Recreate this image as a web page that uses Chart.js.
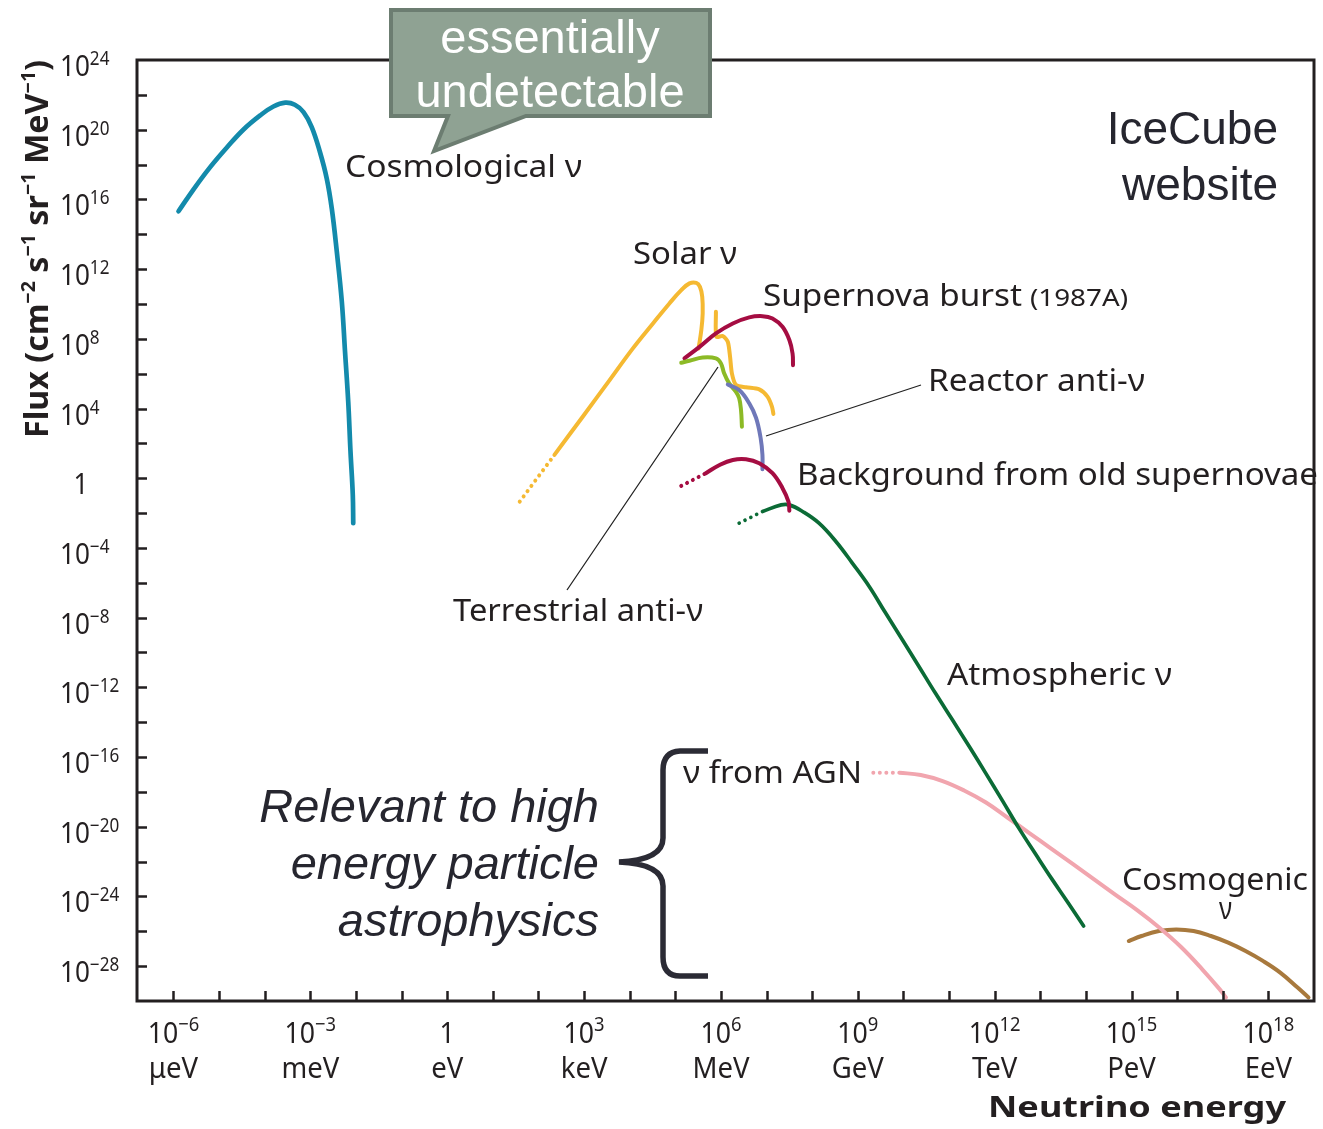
<!DOCTYPE html>
<html>
<head>
<meta charset="utf-8">
<title>Neutrino flux vs energy</title>
<script src="https://cdn.jsdelivr.net/npm/chart.js@4.4.1/dist/chart.umd.min.js"></script>
<style>
  html, body { margin: 0; padding: 0; background: #ffffff; }
  canvas { display: block; }
</style>
</head>
<body>
<canvas id="flux" width="1323" height="1129"></canvas>
<script>
// Axis tick labels (decade exponents of energy in eV, and of flux)
const xTickExp = [-6, -3, 0, 3, 6, 9, 12, 15, 18];
const xTickUnits = ['μeV', 'meV', 'eV', 'keV', 'MeV', 'GeV', 'TeV', 'PeV', 'EeV'];
const yTickExp = [24, 20, 16, 12, 8, 4, 0, -4, -8, -12, -16, -20, -24, -28];

// Each source: log10(E / eV) and log10(flux / cm^-2 s^-1 sr^-1 MeV^-1)
const cosmologicalE = [-5.89, -5.56, -5.20, -4.83, -4.47, -4.10, -3.81, -3.55, -3.34, -3.15, -2.97, -2.79, -2.64, -2.53, -2.42, -2.31, -2.24, -2.17, -2.12, -2.07, -2.06];
const cosmologicalF = [15.32, 16.58, 17.84, 18.98, 20.00, 20.82, 21.33, 21.55, 21.43, 21.01, 20.15, 18.72, 17.19, 15.47, 12.99, 10.12, 7.26, 4.39, 1.52, -0.96, -2.58];

const solarLowE = [1.59, 2.35];
const solarLowF = [-1.34, 1.34];
const solarE = [2.35, 2.97, 3.56, 4.07, 4.51, 4.87, 5.13, 5.31, 5.46, 5.54, 5.59, 5.60, 5.57, 5.51];
const solarF = [1.34, 3.53, 5.63, 7.45, 8.88, 10.03, 10.79, 11.18, 11.21, 10.98, 10.41, 9.46, 8.50, 7.45];
const solarLineE = [5.89, 5.90, 6.04, 6.15, 6.20, 6.24, 6.33, 6.55, 6.84, 7.02, 7.12, 7.15];
const solarLineF = [9.55, 8.12, 8.16, 7.83, 6.97, 6.02, 5.35, 5.22, 5.10, 4.68, 4.10, 3.69];

const supernovaE = [5.20, 5.53, 5.89, 6.26, 6.62, 6.91, 7.13, 7.35, 7.50, 7.57, 7.58];
const supernovaF = [6.88, 7.54, 8.31, 8.88, 9.23, 9.30, 9.17, 8.69, 7.93, 7.16, 6.49];

const terrestrialE = [5.13, 5.31, 5.60, 5.89, 6.00, 6.07, 6.18, 6.33, 6.40, 6.44, 6.46];
const terrestrialF = [6.63, 6.74, 6.93, 6.88, 6.59, 6.02, 5.44, 4.96, 4.59, 3.91, 2.96];

const reactorE = [6.15, 6.40, 6.62, 6.77, 6.87, 6.91, 6.91];
const reactorF = [5.38, 5.06, 4.30, 3.46, 2.31, 1.34, 0.52];

const relicSnLowE = [5.13, 5.67];
const relicSnLowF = [-0.44, 0.29];
const relicSnE = [5.67, 5.97, 6.26, 6.55, 6.84, 7.13, 7.35, 7.48, 7.50];
const relicSnF = [0.29, 0.76, 1.05, 1.09, 0.86, 0.29, -0.57, -1.34, -1.87];

const atmosphericLowE = [6.40, 6.91];
const atmosphericLowF = [-2.58, -1.91];
const atmosphericE = [6.91, 7.32, 7.50, 7.79, 8.15, 8.52, 8.88, 9.25, 9.61, 9.98, 10.34, 10.70, 11.07, 11.44, 11.80, 12.17, 12.53, 12.90, 13.26, 13.62, 13.95];
const atmosphericF = [-1.91, -1.53, -1.53, -1.91, -2.58, -3.63, -4.87, -6.21, -7.74, -9.28, -10.80, -12.33, -13.85, -15.38, -16.91, -18.50, -20.08, -21.58, -23.02, -24.40, -25.70];

const agnLowE = [9.34, 9.91];
const agnLowF = [-16.90, -16.90];
const agnE = [9.91, 10.38, 10.86, 11.33, 11.81, 12.28, 12.76, 13.23, 13.71, 14.18, 14.65, 15.13, 15.60, 16.08, 16.55, 16.93, 17.07];
const agnF = [-16.90, -17.03, -17.38, -17.92, -18.61, -19.47, -20.36, -21.24, -22.13, -23.02, -23.91, -24.80, -25.77, -26.89, -28.18, -29.32, -29.80];

const cosmogenicE = [14.94, 15.22, 15.60, 15.98, 16.36, 16.74, 17.12, 17.50, 17.88, 18.26, 18.64, 18.88];
const cosmogenicF = [-26.56, -26.27, -25.98, -25.89, -25.98, -26.27, -26.65, -27.13, -27.70, -28.37, -29.23, -29.80];

// ---------------------------------------------------------------
const INK = '#231f20';
const SANS = "'Noto Sans', 'Open Sans', 'DejaVu Sans', sans-serif";
const ARIAL = "'Liberation Sans', Arial, sans-serif";

const toPts = (E, F) => E.map((e, i) => ({ x: Math.pow(10, e), y: Math.pow(10, F[i]) }));

function curve(label, E, F, color, width, order, extra) {
  return Object.assign({
    label, data: toPts(E, F), borderColor: color, backgroundColor: color,
    borderWidth: width, pointRadius: 0, pointHoverRadius: 0, fill: false,
    tension: 0.4, borderCapStyle: 'round', borderJoinStyle: 'round', order
  }, extra || {});
}
function dotted(label, E, F, color, width, order) {
  return curve(label, E, F, color, width, order, { tension: 0, borderDash: [0.01, 6.5] });
}

const datasets = [
  curve('Cosmological ν', cosmologicalE, cosmologicalF, '#138aab', 4.7, 1),
  dotted('Solar ν (low)', solarLowE, solarLowF, '#f5b932', 4, 6),
  curve('Solar ν', solarE, solarF, '#f5b932', 4, 6),
  curve('Solar ν lines', solarLineE, solarLineF, '#f5b932', 4, 6, { tension: 0.25 }),
  curve('Supernova burst', supernovaE, supernovaF, '#a50d42', 4, 5),
  curve('Terrestrial anti-ν', terrestrialE, terrestrialF, '#8cba26', 4, 4),
  curve('Reactor anti-ν', reactorE, reactorF, '#6f78b9', 4, 3),
  dotted('Old supernovae (low)', relicSnLowE, relicSnLowF, '#a50d42', 4, 2),
  curve('Background from old supernovae', relicSnE, relicSnF, '#a50d42', 4, 2),
  dotted('Atmospheric ν (low)', atmosphericLowE, atmosphericLowF, '#0b6b36', 3.7, 3),
  curve('Atmospheric ν', atmosphericE, atmosphericF, '#0b6b36', 3.7, 3),
  dotted('ν from AGN (low)', agnLowE, agnLowF, '#f1a5ae', 4, 7),
  curve('ν from AGN', agnE, agnF, '#f1a5ae', 4, 7),
  curve('Cosmogenic ν', cosmogenicE, cosmogenicF, '#a8793d', 4, 8)
];

// Text with superscript runs; parts = [{t, sup}]
function richText(ctx, parts, x, y, o) {
  const size = o.size, supSize = o.supSize || Math.round(size * 0.66);
  const rise = o.rise != null ? o.rise : size * 0.36;
  const pre = (o.style ? o.style + ' ' : '') + (o.weight ? o.weight + ' ' : '');
  const fam = o.family || SANS;
  let w0 = 0;
  const widths = parts.map(p => {
    ctx.font = pre + (p.sup ? supSize : size) + 'px ' + fam;
    const w = ctx.measureText(p.t).width;
    w0 += w;
    return w;
  });
  const sx = o.width ? o.width / w0 : (o.sx || 1);
  ctx.save();
  ctx.translate(x, y);
  ctx.scale(sx, 1);
  ctx.fillStyle = o.color || INK;
  ctx.textBaseline = 'alphabetic';
  ctx.textAlign = 'left';
  let cx = o.align === 'right' ? -w0 : o.align === 'center' ? -w0 / 2 : 0;
  parts.forEach((p, i) => {
    ctx.font = pre + (p.sup ? supSize : size) + 'px ' + fam;
    ctx.fillText(p.t, cx, p.sup ? -rise : 0);
    cx += widths[i];
  });
  ctx.restore();
}
const plain = t => [{ t }];
const pow10 = k => k === 0 ? [{ t: '1' }] : [{ t: '10' }, { t: (k < 0 ? '\u2212' : '') + Math.abs(k), sup: true }];

// Labels placed on the plot
const curveLabels = [
  { t: 'Cosmological ν', x: 345, y: 177, w: 237 },
  { t: 'Solar ν', x: 633, y: 264, w: 104 },
  { t: 'Supernova burst', x: 763, y: 306, w: 259 },
  { t: '(1987A)', x: 1030, y: 306, w: 98, size: 23 },
  { t: 'Reactor anti-ν', x: 928, y: 391, w: 217 },
  { t: 'Background from old supernovae', x: 797, y: 485, w: 521 },
  { t: 'Terrestrial anti-ν', x: 453, y: 621, w: 250 },
  { t: 'Atmospheric ν', x: 947, y: 685, w: 225 },
  { t: 'ν from AGN', x: 683, y: 783, w: 179 },
  { t: 'Cosmogenic', x: 1122, y: 890, w: 186 },
  { t: 'ν', x: 1219, y: 919, w: 13 }
];

const overlay = {
  id: 'overlay',
  afterDraw(chart) {
    const ctx = chart.ctx, a = chart.chartArea;
    const xs = chart.scales.x, ys = chart.scales.y;

    // frame
    ctx.save();
    ctx.strokeStyle = INK;
    ctx.lineWidth = 3;
    ctx.strokeRect(a.left, a.top, a.right - a.left, a.bottom - a.top);

    // inward tick marks
    ctx.lineWidth = 2.5;
    ctx.beginPath();
    xs.ticks.forEach(t => {
      const px = Math.round(xs.getPixelForValue(t.value)) + 0.5;
      ctx.moveTo(px, a.bottom); ctx.lineTo(px, a.bottom - 10);
    });
    ys.ticks.forEach(t => {
      const py = Math.round(ys.getPixelForValue(t.value)) + 0.5;
      ctx.moveTo(a.left, py); ctx.lineTo(a.left + 10, py);
    });
    ctx.stroke();
    ctx.restore();

    // y tick labels
    yTickExp.forEach(k => {
      const py = ys.getPixelForValue(Math.pow(10, k));
      if (k === 0) {
        richText(ctx, plain('1'), 81, py + 16, { size: 29, align: 'center', sx: 0.9 });
      } else {
        richText(ctx, pow10(k), 60, py + 16, { size: 29, supSize: 19, rise: 11, align: 'left', sx: 0.9 });
      }
    });

    // x tick labels
    xTickExp.forEach((k, i) => {
      const px = xs.getPixelForValue(Math.pow(10, k));
      richText(ctx, pow10(k), px, 1043, { size: 29, supSize: 20, rise: 12, align: 'center', sx: 0.92 });
      richText(ctx, plain(xTickUnits[i]), px, 1078, { size: 29, align: 'center', sx: 0.95 });
    });

    // axis titles
    richText(ctx, plain('Neutrino energy'), 1286, 1117, { size: 29, weight: 'bold', align: 'right', width: 298 });
    ctx.save();
    ctx.translate(48, 438);
    ctx.rotate(-Math.PI / 2);
    richText(ctx, [
      { t: 'Flux (cm' }, { t: '\u22122', sup: true }, { t: ' s' }, { t: '\u22121', sup: true },
      { t: ' sr' }, { t: '\u22121', sup: true }, { t: ' MeV' }, { t: '\u22121', sup: true }, { t: ')' }
    ], 0, 0, { size: 33, supSize: 20, rise: 13, weight: 'bold', align: 'left', width: 378 });
    ctx.restore();

    // leader lines
    ctx.save();
    ctx.strokeStyle = '#222222';
    ctx.lineWidth = 1.3;
    ctx.beginPath();
    ctx.moveTo(766, 436); ctx.lineTo(921, 385);
    ctx.moveTo(718, 367); ctx.lineTo(567, 590);
    ctx.stroke();
    ctx.restore();

    // curve labels
    curveLabels.forEach(l => {
      richText(ctx, plain(l.t), l.x, l.y, { size: l.size || 31, align: 'left', width: l.w });
    });

    // brace for the high-energy sources
    ctx.save();
    ctx.strokeStyle = '#2b2b35';
    ctx.lineWidth = 5.5;
    ctx.lineCap = 'butt';
    ctx.beginPath();
    ctx.moveTo(708, 751);
    ctx.lineTo(680, 751);
    ctx.quadraticCurveTo(663, 752, 663, 770);
    ctx.lineTo(663, 838);
    ctx.quadraticCurveTo(663, 860, 619, 862);
    ctx.quadraticCurveTo(663, 864, 663, 886);
    ctx.lineTo(663, 957);
    ctx.quadraticCurveTo(663, 976, 680, 976);
    ctx.lineTo(708, 976);
    ctx.stroke();
    ctx.restore();

    // side notes
    const note = '#26262f';
    [['Relevant to high', 822], ['energy particle', 879], ['astrophysics', 936]].forEach(([t, y]) => {
      richText(ctx, plain(t), 599, y, { size: 47, style: 'italic', family: ARIAL, align: 'right', color: note });
    });
    richText(ctx, plain('IceCube'), 1278, 144, { size: 46, family: ARIAL, align: 'right', color: note });
    richText(ctx, plain('website'), 1278, 200, { size: 46, family: ARIAL, align: 'right', color: note });

    // callout
    ctx.save();
    ctx.fillStyle = '#8fa293';
    ctx.strokeStyle = '#6c7d71';
    ctx.lineWidth = 4;
    ctx.lineJoin = 'miter';
    ctx.beginPath();
    ctx.moveTo(391, 10);
    ctx.lineTo(710, 10);
    ctx.lineTo(710, 116);
    ctx.lineTo(526, 116);
    ctx.lineTo(434, 151);
    ctx.lineTo(448, 116);
    ctx.lineTo(391, 116);
    ctx.closePath();
    ctx.fill();
    ctx.stroke();
    ctx.restore();
    richText(ctx, plain('essentially'), 550, 53, { size: 47, family: ARIAL, align: 'center', color: '#ffffff' });
    richText(ctx, plain('undetectable'), 550, 107, { size: 47, family: ARIAL, align: 'center', color: '#ffffff' });
  }
};

new Chart(document.getElementById('flux'), {
  type: 'line',
  data: { datasets },
  options: {
    responsive: false,
    animation: false,
    devicePixelRatio: 1,
    layout: { padding: { left: 137, top: 60, right: 9, bottom: 128 } },
    plugins: { legend: { display: false }, tooltip: { enabled: false } },
    scales: {
      x: {
        type: 'logarithmic', min: Math.pow(10, -6.8), max: 1e19,
        afterBuildTicks: s => { const t = []; for (let k = -6; k <= 18; k++) t.push({ value: Math.pow(10, k) }); s.ticks = t; },
        ticks: { display: false },
        grid: { display: false, drawTicks: false },
        border: { display: false }
      },
      y: {
        type: 'logarithmic', min: 1e-30, max: 1e24,
        afterBuildTicks: s => { const t = []; for (let k = -28; k <= 22; k += 2) t.push({ value: Math.pow(10, k) }); s.ticks = t; },
        ticks: { display: false },
        grid: { display: false, drawTicks: false },
        border: { display: false }
      }
    }
  },
  plugins: [overlay]
});
</script>
</body>
</html>
